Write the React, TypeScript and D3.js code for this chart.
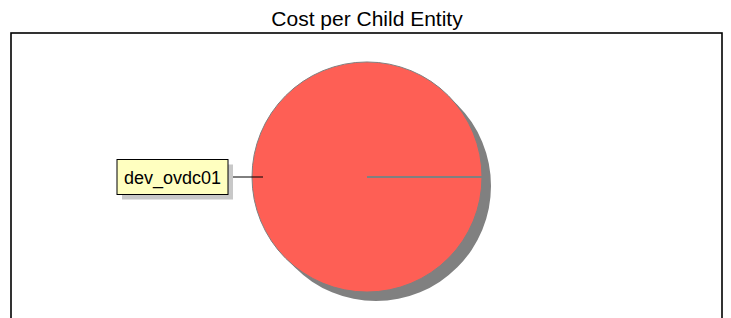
import React from 'react';
import * as d3 from 'd3';

const title = 'Cost per Child Entity';
const categories = ['dev_ovdc01'];
const costs = [1];

const W = 731;
const H = 318;
const cx = 367;
const cy = 177;
const radius = 115;

const App = () => {
  const pie = d3
    .pie<number>()
    .sort(null)
    .startAngle(Math.PI / 2)
    .endAngle(Math.PI / 2 + 2 * Math.PI);
  const arcs = pie(costs);
  const arc = d3.arc<d3.PieArcDatum<number>>().innerRadius(0).outerRadius(radius);

  return (
    <svg width={W} height={H} style={{ position: 'absolute', left: 0, top: 0 }}>
      <text x={cx} y={26} textAnchor="middle" fontFamily="Liberation Sans, Arial, sans-serif" fontSize={21} fill="#000">
        {title}
      </text>
      <rect x={11} y={33} width={711} height={320} fill="#fff" stroke="#000" strokeWidth={1.6} />
      <g transform={`translate(${cx},${cy})`}>
        {arcs.map((a, i) => (
          <path key={'s' + i} d={arc(a) || ''} transform="translate(9,9)" fill="#808080" />
        ))}
        {arcs.map((a, i) => (
          <path key={'p' + i} d={arc(a) || ''} fill="#fe5f55" stroke="#808080" strokeWidth={1} />
        ))}
        {arcs.map((a, i) => {
          const [x, y] = d3.pointRadial(a.startAngle, radius);
          return <line key={'b' + i} x1={0} y1={0} x2={x} y2={y} stroke="#808080" strokeWidth={2} />;
        })}
        {arcs.map((a, i) => {
          const mid = (a.startAngle + a.endAngle) / 2;
          const [px, py] = d3.pointRadial(mid, radius - 11);
          const bw = 111;
          const bh = 35;
          const bx = -radius - 24 - bw;
          const by = py - bh / 2;
          return (
            <g key={'l' + i}>
              <line x1={bx + bw} y1={py} x2={px} y2={py} stroke="#000" strokeWidth={1} />
              <rect x={bx + 5} y={by + 5} width={bw} height={bh} fill="#c8c8c8" />
              <rect x={bx} y={by} width={bw} height={bh} fill="#ffffc0" stroke="#000" strokeWidth={1} />
              <text
                x={bx + bw / 2}
                y={by + bh / 2 + 7}
                textAnchor="middle"
                fontFamily="Liberation Sans, Arial, sans-serif"
                fontSize={18}
                fill="#000"
              >
                {categories[i]}
              </text>
            </g>
          );
        })}
      </g>
    </svg>
  );
};

export default App;
